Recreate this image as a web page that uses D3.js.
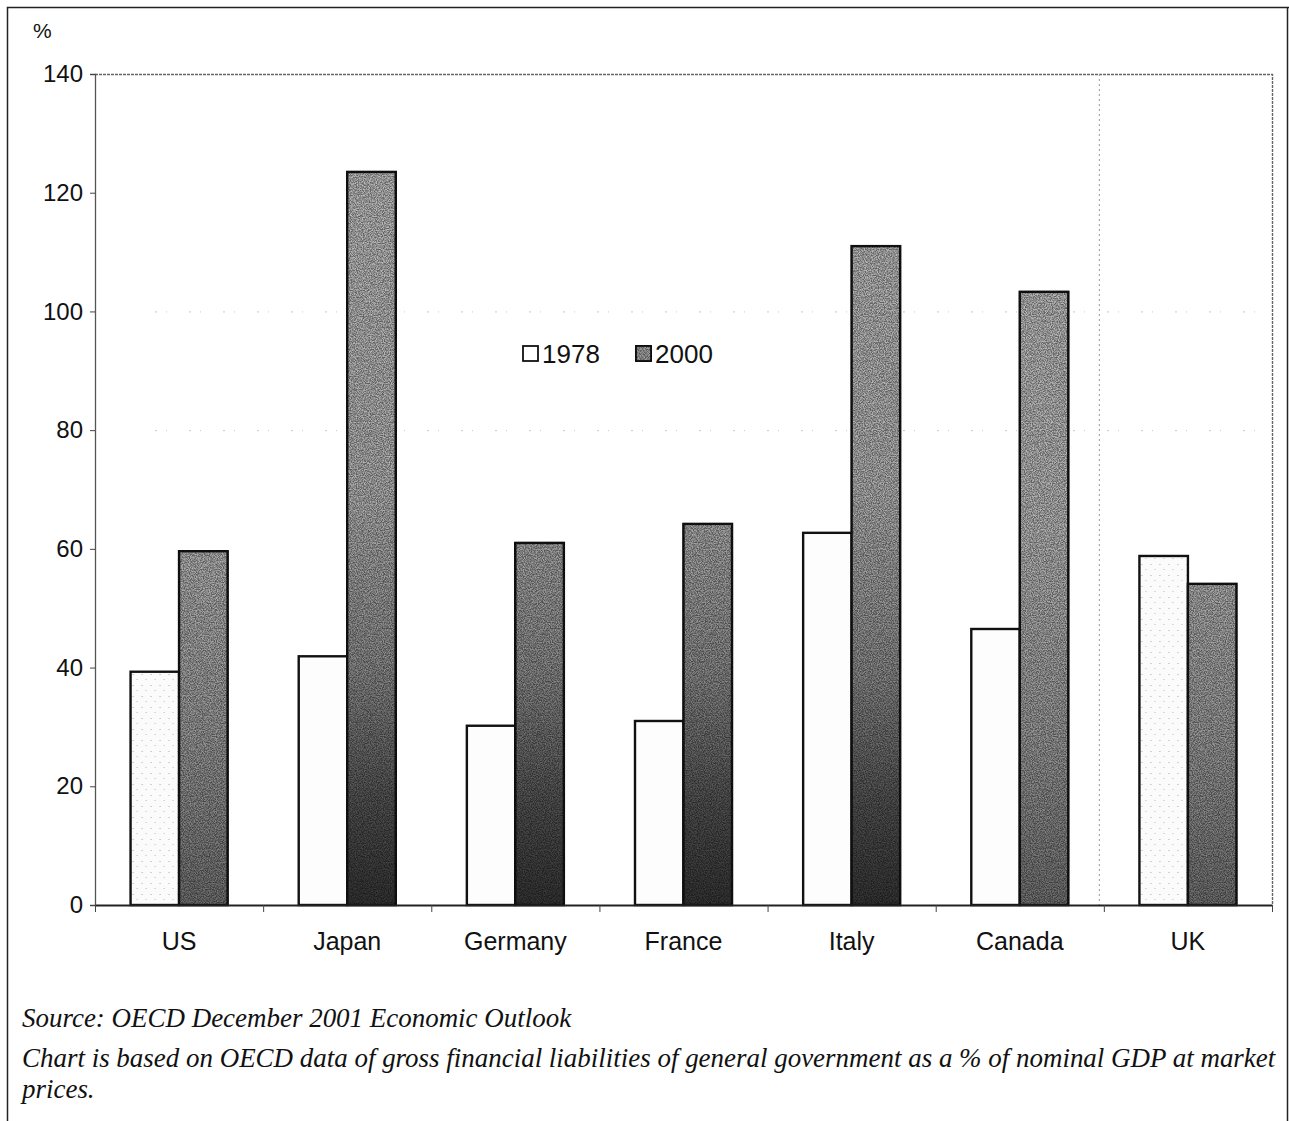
<!DOCTYPE html>
<html>
<head>
<meta charset="utf-8">
<script src="https://cdn.jsdelivr.net/npm/d3@7"></script>
<style>
  html, body { margin: 0; padding: 0; background: #fff; }
  svg { display: block; }
</style>
</head>
<body>
<svg id="chart" width="1289" height="1121"></svg>
<script>
// Gross government liabilities, % of nominal GDP
const countries = ["US", "Japan", "Germany", "France", "Italy", "Canada", "UK"];
const years = ["1978", "2000"];
const values1978 = [39.3, 41.9, 30.2, 31.0, 62.7, 46.5, 58.8];
const values2000 = [59.6, 123.5, 61.0, 64.2, 111.0, 103.3, 54.1];
const yTicks = [0, 20, 40, 60, 80, 100, 120, 140];
const footnotes = [
  "Source: OECD December 2001 Economic Outlook",
  "Chart is based on OECD data of gross financial liabilities of general government as a % of nominal GDP at market",
  "prices."
];

const svg = d3.select("#chart");
const sans = "'Liberation Sans', Arial, Helvetica, sans-serif";
const serif = "'Liberation Serif', 'Times New Roman', serif";

const plot = { left: 95, right: 1272, top: 74, bottom: 905 };

const x = d3.scaleBand().domain(countries).range([plot.left, plot.right]).padding(0);
const y = d3.scaleLinear().domain([0, 140]).range([plot.bottom, plot.top]);
const groupW = 97;
const xs = d3.scaleBand().domain(years).range([0, groupW]).padding(0);

// ---- defs: shaded, grainy fills ----
const defs = svg.append("defs");

function vGrad(id, stops) {
  const g = defs.append("linearGradient")
    .attr("id", id).attr("gradientUnits", "userSpaceOnUse")
    .attr("x1", 0).attr("x2", 0).attr("y1", plot.top).attr("y2", plot.bottom);
  stops.forEach(([o, c]) => g.append("stop").attr("offset", o).attr("stop-color", c));
}
// deep shading toward the baseline
vGrad("shadeDeep", [["0%", "#a2a2a2"], ["50%", "#959595"], ["72%", "#747474"], ["88%", "#444"], ["100%", "#2c2c2c"]]);
// softer shading
vGrad("shadeSoft", [["0%", "#a2a2a2"], ["55%", "#999"], ["80%", "#808080"], ["100%", "#5e5e5e"]]);

const grain = defs.append("filter").attr("id", "grain")
  .attr("x", "-10%").attr("y", "-2%").attr("width", "120%").attr("height", "104%")
  .attr("color-interpolation-filters", "sRGB");
grain.append("feTurbulence").attr("type", "fractalNoise")
  .attr("baseFrequency", 0.85).attr("numOctaves", 2).attr("seed", 7).attr("result", "n");
grain.append("feColorMatrix").attr("in", "n").attr("type", "matrix")
  .attr("values", "2.6 0 0 0 -0.8  2.6 0 0 0 -0.8  2.6 0 0 0 -0.8  0 0 0 0 1")
  .attr("result", "g");
grain.append("feComposite").attr("in", "g").attr("in2", "SourceGraphic")
  .attr("operator", "arithmetic").attr("k1", 0.55).attr("k2", 0).attr("k3", 0.62).attr("k4", 0);

const dots = defs.append("pattern").attr("id", "lightDots")
  .attr("patternUnits", "userSpaceOnUse").attr("width", 9).attr("height", 11);
dots.append("rect").attr("width", 9).attr("height", 11).attr("fill", "#fbfbfb");
dots.append("rect").attr("x", 2).attr("y", 3).attr("width", 1).attr("height", 1).attr("fill", "#aaa");
dots.append("rect").attr("x", 6).attr("y", 8).attr("width", 1).attr("height", 1).attr("fill", "#bbb");

const softBars = new Set(["US", "Canada", "UK"]);

// ---- page frame ----
svg.append("path")
  .attr("d", "M7.5,1121 V7.5 H1289 M1287.5,7.5 V1121")
  .attr("fill", "none").attr("stroke", "#222").attr("stroke-width", 1.5);

// ---- faint gridlines ----
svg.append("g").selectAll("line").data([80, 100]).join("line")
  .attr("x1", plot.left + 60).attr("x2", plot.right - 10)
  .attr("y1", d => y(d) + 0.5).attr("y2", d => y(d) + 0.5)
  .attr("stroke", "#999").attr("stroke-width", 1)
  .attr("stroke-dasharray", "2 9 1 22").attr("opacity", 0.55);

// ---- plot frame (top, right) and UK separator ----
svg.append("path")
  .attr("d", `M${plot.left},${plot.top + 0.5} H${plot.right + 0.5} V${plot.bottom}`)
  .attr("fill", "none").attr("stroke", "#666").attr("stroke-width", 1.4)
  .attr("stroke-dasharray", "3 1");
svg.append("line")
  .attr("x1", x("UK") - 4.5).attr("x2", x("UK") - 4.5)
  .attr("y1", plot.top).attr("y2", plot.bottom)
  .attr("stroke", "#999").attr("stroke-width", 1).attr("stroke-dasharray", "2 3");

// ---- bars ----
const rows = countries.map((c, i) => ({ c, v: [values1978[i], values2000[i]] }));
const groups = svg.append("g").selectAll("g").data(rows).join("g")
  .attr("transform", d => `translate(${x(d.c) + x.bandwidth() / 2 - groupW / 2},0)`);

groups.selectAll("rect")
  .data(d => years.map((yr, k) => ({ yr, v: d.v[k], c: d.c })))
  .join("rect")
  .attr("x", d => xs(d.yr))
  .attr("width", xs.bandwidth())
  .attr("y", d => y(d.v))
  .attr("height", d => y(0) - y(d.v))
  .attr("fill", d => d.yr === "1978"
    ? (d.c === "UK" || d.c === "US" ? "url(#lightDots)" : "#fdfdfd")
    : (softBars.has(d.c) ? "url(#shadeSoft)" : "url(#shadeDeep)"))
  .attr("filter", d => d.yr === "2000" ? "url(#grain)" : null)
  .attr("stroke", "#111").attr("stroke-width", 2.4);

// ---- axes ----
const yAxis = svg.append("g")
  .attr("transform", `translate(${plot.left},0)`)
  .call(d3.axisLeft(y).tickValues(yTicks).tickSize(5).tickPadding(7).tickFormat(d3.format("d")));
yAxis.select(".domain").attr("stroke", "#555").attr("stroke-width", 1.3);
yAxis.selectAll(".tick line").attr("stroke", "#444");
yAxis.selectAll(".tick text").attr("font-family", sans).attr("font-size", 24).attr("fill", "#111");

const xAxis = svg.append("g")
  .attr("transform", `translate(0,${plot.bottom})`)
  .call(d3.axisBottom(x).tickSize(0).tickPadding(27));
xAxis.select(".domain").attr("stroke", "#222").attr("stroke-width", 1.8);
xAxis.selectAll(".tick text").attr("font-family", sans).attr("font-size", 25).attr("fill", "#111");

// boundary ticks between categories
const bounds = countries.map(c => x(c)).concat([plot.right]);
svg.append("g").selectAll("line").data(bounds).join("line")
  .attr("x1", d => d + 0.5).attr("x2", d => d + 0.5)
  .attr("y1", plot.bottom).attr("y2", plot.bottom + 7)
  .attr("stroke", "#444").attr("stroke-width", 1);

// unit label
svg.append("text").attr("x", 33).attr("y", 38)
  .attr("font-family", sans).attr("font-size", 21).attr("fill", "#111").text("%");

// ---- legend ----
const legend = svg.append("g").attr("transform", "translate(523,346)");
const legItems = [
  { label: years[0], fill: "#fff", dx: 0, filter: null },
  { label: years[1], fill: "url(#shadeDeep)", dx: 113, filter: "url(#grain)" }
];
const li = legend.selectAll("g").data(legItems).join("g")
  .attr("transform", d => `translate(${d.dx},0)`);
li.append("rect").attr("x", 0).attr("y", 0).attr("width", 15).attr("height", 15)
  .attr("fill", d => d.fill === "url(#shadeDeep)" ? "#8a8a8a" : d.fill)
  .attr("filter", d => d.filter)
  .attr("stroke", "#111").attr("stroke-width", 1.8);
li.append("text").attr("x", 19).attr("y", 17)
  .attr("font-family", sans).attr("font-size", 26).attr("fill", "#111")
  .text(d => d.label);

// ---- footnotes ----
const fnY = [1027, 1067, 1098];
const t = svg.append("g").selectAll("text").data(footnotes).join("text")
  .attr("x", 22).attr("y", (d, i) => fnY[i])
  .attr("font-family", serif).attr("font-style", "italic").attr("font-size", 20)
  .attr("fill", "#111").text(d => d);
// size the long line to run across the page width
const w = t.nodes()[1].getComputedTextLength();
t.attr("font-size", 20 * 1254 / w);
</script>
</body>
</html>
